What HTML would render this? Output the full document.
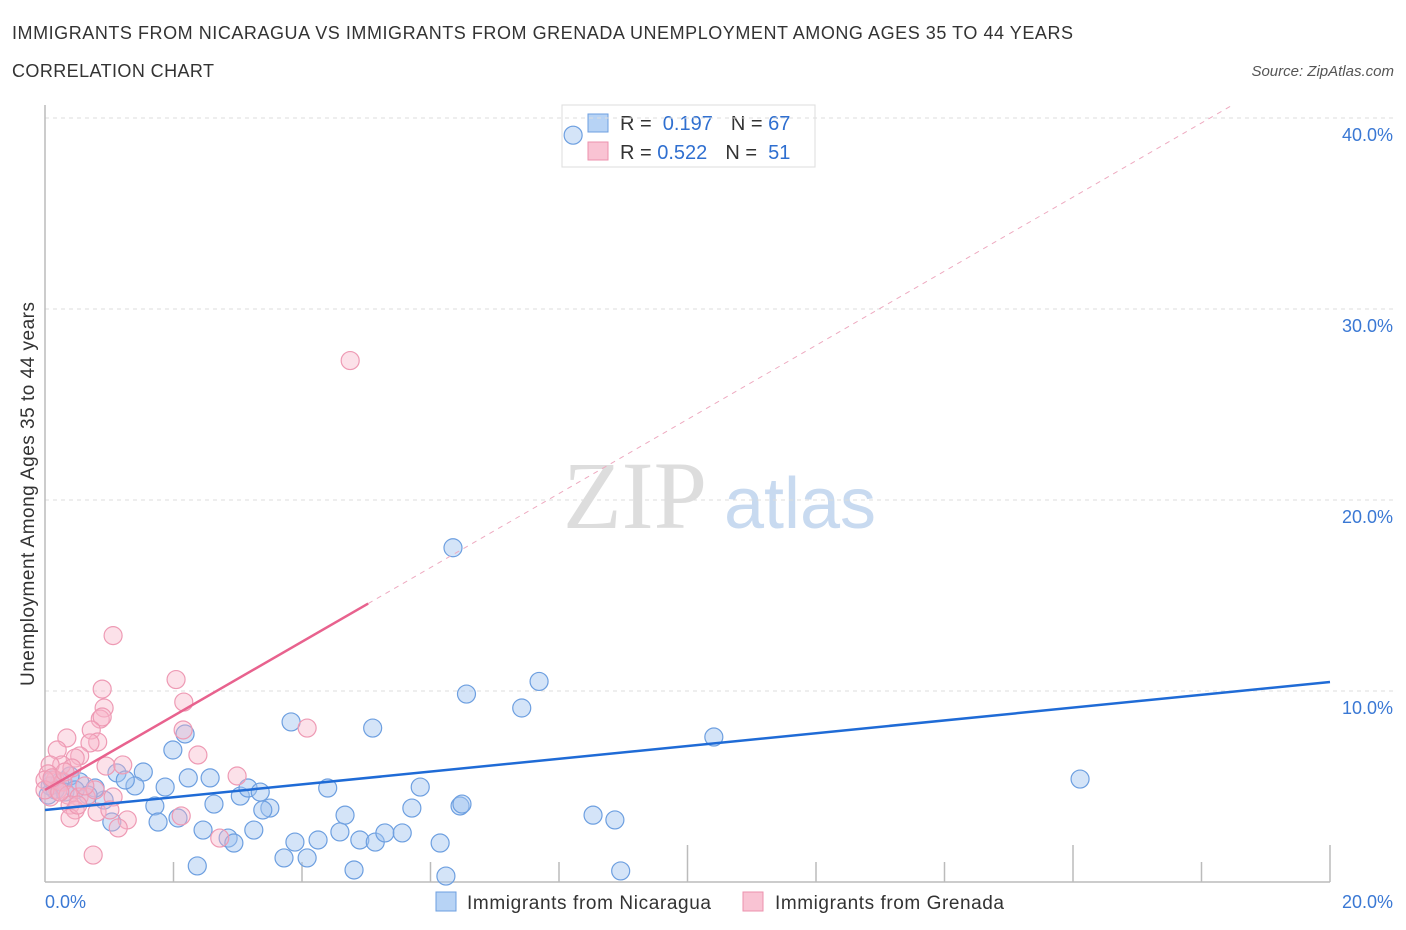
<!DOCTYPE html>
<html><head><meta charset="utf-8"><style>
body{margin:0;background:#fff;font-family:"Liberation Sans",sans-serif}
svg{display:block}
</style></head><body>
<svg id="chart" width="1406" height="930">
<text x="12" y="39" font-size="18" fill="#333" textLength="1061">IMMIGRANTS FROM NICARAGUA VS IMMIGRANTS FROM GRENADA UNEMPLOYMENT AMONG AGES 35 TO 44 YEARS</text>
<text x="12" y="77" font-size="18" fill="#333" textLength="202">CORRELATION CHART</text>
<text x="1394" y="76" font-size="15" fill="#555" font-style="italic" text-anchor="end">Source: ZipAtlas.com</text>
<text x="635" y="528" font-size="96" fill="#ddd" font-family="Liberation Serif,serif" text-anchor="middle">ZIP</text>
<text x="800" y="528" font-size="72" fill="#c8daf0" text-anchor="middle">atlas</text>
<text transform="translate(34,494) rotate(-90)" font-size="19" fill="#333" text-anchor="middle" textLength="384">Unemployment Among Ages 35 to 44 years</text>
<g>
<rect x="562" y="105" width="253" height="62" fill="#fff" stroke="#ddd"/>
<rect x="588" y="114" width="20" height="18" fill="#b7d3f5" stroke="#6d9fe0"/>
<rect x="588" y="142" width="20" height="18" fill="#f9c3d3" stroke="#ec92ae"/>
<text x="620" y="130" font-size="20" fill="#333">R = <tspan fill="#2f6fd0">&#160;0.197</tspan><tspan dx="18">N = </tspan><tspan fill="#2f6fd0">67</tspan></text>
<text x="620" y="159" font-size="20" fill="#333">R = <tspan fill="#2f6fd0">0.522</tspan><tspan dx="18">N = </tspan><tspan fill="#2f6fd0">&#160;51</tspan></text>
</g>
<g>
<rect x="436" y="892" width="20" height="19" fill="#b7d3f5" stroke="#6d9fe0"/>
<text x="467" y="909" font-size="19" fill="#333" textLength="244">Immigrants from Nicaragua</text>
<rect x="743" y="892" width="20" height="19" fill="#f9c3d3" stroke="#ec92ae"/>
<text x="775" y="909" font-size="19" fill="#333" textLength="229">Immigrants from Grenada</text>
</g>
<g id="grid"></g><g id="marks"></g>
</svg>
<script>
const xTicks=[0,20];
const yTicks=[10,20,30,40];
const blueX=[8.22,6.35,7.69,6.56,7.42,10.41,16.11,5.10,3.83,2.18,1.99,1.53,2.23,2.57,1.12,1.40,1.87,1.25,0.92,0.78,0.54,0.39,0.23,0.16,0.08,0.31,3.04,3.16,3.35,3.50,3.39,4.40,5.84,5.71,6.46,6.49,4.67,2.63,1.71,1.76,2.07,2.46,2.85,2.94,3.25,3.89,4.25,4.59,4.90,5.14,5.29,5.56,6.15,8.53,8.87,2.37,3.72,4.08,4.81,6.24,8.96,1.04,0.05,0.11,0.67,0.47];
const blueY=[39.1,17.5,10.5,9.84,9.11,7.59,5.39,8.06,8.38,7.75,6.91,5.76,5.45,5.45,5.71,5.03,4.97,5.34,4.29,4.92,5.24,5.55,5.24,4.82,5.03,4.71,4.50,4.92,4.71,3.87,3.77,4.92,4.97,3.87,3.98,4.08,3.50,4.08,3.98,3.14,3.35,2.72,2.30,2.04,2.72,2.09,2.20,2.62,2.20,2.09,2.57,2.57,2.04,3.5,3.25,0.84,1.26,1.26,0.63,0.31,0.58,3.14,4.55,5.34,4.55,4.82];
const pinkX=[4.75,1.06,2.04,0.89,2.16,0.92,0.86,0.89,2.15,4.08,0.72,0.34,0.82,0.70,0.19,0.54,2.38,0.47,0.26,0.08,0.95,1.21,0.42,2.99,0.16,0.05,0.28,0,0.2,0.36,0.53,0.64,1.06,0.08,0.39,0.47,0.81,1.28,0.39,1.14,2.12,0.75,2.72,0,0.23,0.51,0.11,0.31,0.78,1.01,0.62];
const pinkY=[27.3,12.9,10.6,10.1,9.42,9.11,8.53,8.64,7.96,8.06,7.96,7.54,7.33,7.28,6.91,6.60,6.65,6.49,6.13,6.13,6.07,6.13,5.97,5.55,5.34,5.66,5.24,5.34,4.82,4.55,4.45,4.45,4.45,4.45,4.03,3.77,3.66,3.25,3.35,2.83,3.46,1.41,2.30,4.82,4.71,4.03,5.45,5.76,4.82,3.77,5.03];
const blueFit=[3.77,10.47];
const pinkFit=[4.82,1.94];
const X0=45,X1=1330,Y0=882,PPY=19.1;
const sx=v=>X0+(v/20)*(X1-X0), sy=v=>Y0-v*PPY;
const NS='http://www.w3.org/2000/svg';
const grid=document.getElementById('grid'), marks=document.getElementById('marks');
function mk(tag,attrs,parent){const e=document.createElementNS(NS,tag);for(const k in attrs)e.setAttribute(k,attrs[k]);parent.appendChild(e);return e;}
yTicks.forEach(t=>{
  const l=mk('line',{x1:X0,x2:1394,y1:sy(t),y2:sy(t),stroke:'#ddd','stroke-dasharray':'4,4'},grid);
  
  
  const tx=mk('text',{x:1393,y:sy(t)+23,'font-size':18,fill:'#3a78d4','text-anchor':'end'},grid);
  tx.textContent=t.toFixed(1)+'%';
  
  
});
const ax=mk('line',{x1:X0,x2:X0,y1:105,y2:Y0,stroke:'#bbb','stroke-width':1.5},grid);


const bx=mk('line',{x1:X0,x2:X1,y1:Y0,y2:Y0,stroke:'#bbb','stroke-width':1.5},grid);


for(let i=1;i<=10;i++){
  const xx=sx(i*2), tall=(i==5||i==8||i==10);
  const tk=mk('line',{x1:xx,x2:xx,y1:tall?845:862,y2:Y0,stroke:'#bbb','stroke-width':1.5},grid);
  
  
}
xTicks.forEach((t,i)=>{
  const tx=mk('text',{x:i?1393:45,y:908,'font-size':18,fill:'#3a78d4','text-anchor':i?'end':'start'},grid);
  tx.textContent=t.toFixed(1)+'%';
  
  
});
blueX.forEach((x,i)=>{
  const c=mk('circle',{cx:sx(x),cy:sy(blueY[i]),r:9,fill:'rgba(160,196,240,0.45)',stroke:'#6d9fe0','stroke-width':1.2},marks);
  
  
});
pinkX.forEach((x,i)=>{
  const c=mk('circle',{cx:sx(x),cy:sy(pinkY[i]),r:9,fill:'rgba(248,180,200,0.4)',stroke:'#ee9ab4','stroke-width':1.2},marks);
  
  
});
const bl=mk('line',{x1:sx(0),y1:sy(blueFit[0]),x2:sx(20),y2:sy(blueFit[1]),stroke:'#1f6bd6','stroke-width':2.5},marks);


const pxEnd=5.03, pxMax=(40.7-pinkFit[0])/pinkFit[1];
const pl=mk('line',{x1:sx(0),y1:sy(pinkFit[0]),x2:sx(pxEnd),y2:sy(pinkFit[0]+pinkFit[1]*pxEnd),stroke:'#e8628e','stroke-width':2.5},marks);


const pd=mk('line',{x1:sx(pxEnd),y1:sy(pinkFit[0]+pinkFit[1]*pxEnd),x2:sx(pxMax),y2:sy(40.7),stroke:'#eeaac0','stroke-width':1,'stroke-dasharray':'5,5'},marks);


</script>
</body></html>
